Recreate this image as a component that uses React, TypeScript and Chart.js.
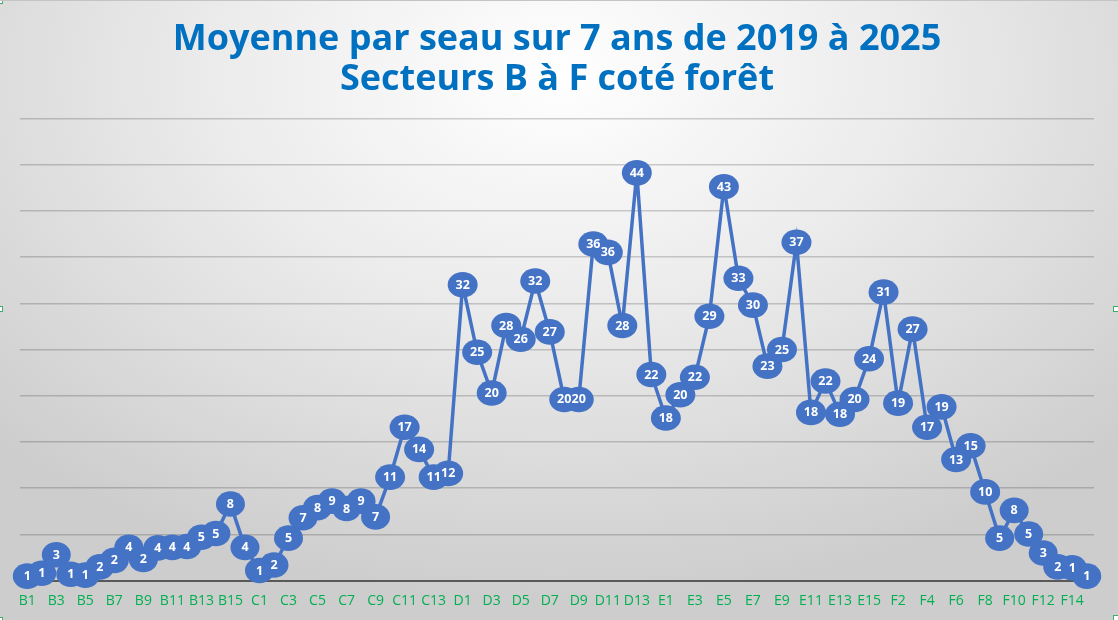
import { useEffect, useRef } from 'react';
import { Chart, registerables } from 'chart.js';

Chart.register(...registerables);

const titleLines = ['Moyenne par seau sur 7 ans de 2019 à 2025', 'Secteurs B à F coté forêt'];

const labelsB = ['B1', 'B2', 'B3', 'B4', 'B5', 'B6', 'B7', 'B8', 'B9', 'B10', 'B11', 'B12', 'B13', 'B14', 'B15', 'B16'];
const labelsC = ['C1', 'C2', 'C3', 'C4', 'C5', 'C6', 'C7', 'C8', 'C9', 'C10', 'C11', 'C12', 'C13', 'C14'];
const labelsD = ['D1', 'D2', 'D3', 'D4', 'D5', 'D6', 'D7', 'D8', 'D9', 'D10', 'D11', 'D12', 'D13', 'D14'];
const labelsE = ['E1', 'E2', 'E3', 'E4', 'E5', 'E6', 'E7', 'E8', 'E9', 'E10', 'E11', 'E12', 'E13', 'E14', 'E15'];
const labelsF = ['F1', 'F2', 'F3', 'F4', 'F5', 'F6', 'F7', 'F8', 'F9', 'F10', 'F11', 'F12', 'F13', 'F14', 'F15'];

// average per bucket (labels show the rounded value)
const valuesB = [0.5, 0.8, 2.8, 0.7, 0.6, 1.5, 2.2, 3.6, 2.3, 3.55, 3.6, 3.7, 4.7, 5.1, 8.3, 3.6];
const valuesC = [1.1, 1.7, 4.6, 6.8, 7.9, 8.6, 7.8, 8.6, 6.9, 11.2, 16.6, 14.2, 11.2, 11.6];
const valuesD = [32.0, 24.7, 20.3, 27.6, 26.1, 32.4, 26.9, 19.6, 19.6, 36.4, 35.5, 27.6, 44.1, 22.3];
const valuesE = [17.6, 20.1, 22.0, 28.6, 42.6, 32.7, 29.8, 23.2, 25.0, 36.6, 18.2, 21.6, 18.0, 19.6, 24.0];
const valuesF = [31.2, 19.2, 27.2, 16.6, 18.8, 13.1, 14.6, 9.6, 4.6, 7.6, 5.05, 3.0, 1.5, 1.4, 0.5];

const categories = [...labelsB, ...labelsC, ...labelsD, ...labelsE, ...labelsF];
const values = [...valuesB, ...valuesC, ...valuesD, ...valuesE, ...valuesF];

const BLUE = '#4472c4';

// oval callout labels like the Excel data labels: all ovals first, then all texts on top
const ovalLabels = {
  id: 'ovalLabels',
  afterDatasetsDraw(chart: Chart) {
    const ctx = chart.ctx;
    const meta = chart.getDatasetMeta(0);
    const data = chart.data.datasets[0].data as number[];
    const pts = meta.data.map((pt, i) => {
      const { x, y } = pt.getProps(['x', 'y'], true) as { x: number; y: number };
      return { x, y, text: String(Math.round(data[i])) };
    });
    ctx.save();
    ctx.fillStyle = BLUE;
    pts.forEach((p) => {
      ctx.beginPath();
      ctx.ellipse(p.x, p.y, p.text.length > 1 ? 15 : 14.5, 12.8, 0, 0, Math.PI * 2);
      ctx.fill();
    });
    ctx.fillStyle = '#ffffff';
    ctx.font = 'bold 12.5px "Open Sans"';
    ctx.textAlign = 'center';
    ctx.textBaseline = 'middle';
    pts.forEach((p) => ctx.fillText(p.text, p.x, p.y + 0.5));
    ctx.restore();
  },
};

export default function App() {
  const chartRef = useRef<HTMLCanvasElement>(null);
  const chartInstance = useRef<Chart | null>(null);

  useEffect(() => {
    document.body.style.margin = '0';
    if (!chartRef.current) return;
    if (chartInstance.current) chartInstance.current.destroy();
    const ctx = chartRef.current.getContext('2d');
    if (!ctx) return;

    chartInstance.current = new Chart(ctx, {
      type: 'line',
      data: {
        labels: categories,
        datasets: [
          {
            data: values,
            borderColor: BLUE,
            borderWidth: 3.5,
            pointRadius: 0,
            tension: 0,
            clip: false,
          },
        ],
      },
      options: {
        responsive: false,
        animation: false,
        layout: { padding: { left: 20, right: 24, top: 0, bottom: 0 } },
        plugins: {
          legend: { display: false },
          tooltip: { enabled: false },
          title: {
            display: true,
            text: titleLines,
            color: '#0070c0',
            font: { family: '"Open Sans"', size: 36, weight: 'bold', lineHeight: 1.111 },
            padding: { top: 20, bottom: 18.3 },
          },
        },
        scales: {
          x: {
            offset: true,
            grid: { display: false, drawTicks: false },
            border: { display: true, color: '#595959', width: 2 },
            afterFit: (scale) => {
              scale.height = 39.3;
            },
            ticks: {
              autoSkip: false,
              maxRotation: 0,
              minRotation: 0,
              padding: 12,
              color: '#00b050',
              font: { family: '"Open Sans"', size: 14 },
              callback: (_v, i) => (i % 2 === 0 ? categories[i] : ''),
            },
          },
          y: {
            min: 0,
            max: 50,
            ticks: { stepSize: 5, display: false },
            border: { display: false },
            grid: {
              drawTicks: false,
              lineWidth: 1.5,
              color: (c) => (c.tick && c.tick.value === 0 ? 'rgba(0,0,0,0)' : 'rgba(0,0,0,0.18)'),
            },
          },
        },
      },
      plugins: [ovalLabels],
    });

    return () => {
      if (chartInstance.current) {
        chartInstance.current.destroy();
        chartInstance.current = null;
      }
    };
  }, []);

  const handle = (style: React.CSSProperties) => (
    <div style={{ position: 'absolute', width: 4, height: 4, border: '1px solid #3fae6a', background: '#fff', ...style }} />
  );

  return (
    <div
      style={{
        position: 'relative',
        width: 1118,
        height: 620,
        overflow: 'hidden',
        borderTop: '1px solid #c4c4c4',
        boxSizing: 'border-box',
        background: 'radial-gradient(ellipse 70% 85% at 50% 12%, #ffffff 0%, #ebebeb 45%, #cdcdcd 100%)',
      }}
    >
      <canvas ref={chartRef} width={1118} height={620} style={{ position: 'absolute', left: 0, top: -1 }} />
      {handle({ left: -3, top: -3 })}
      {handle({ left: -3, top: 305 })}
      {handle({ right: -1, top: 305 })}
      {handle({ left: -3, bottom: -3 })}
      {handle({ right: -1, bottom: -1 })}
    </div>
  );
}
